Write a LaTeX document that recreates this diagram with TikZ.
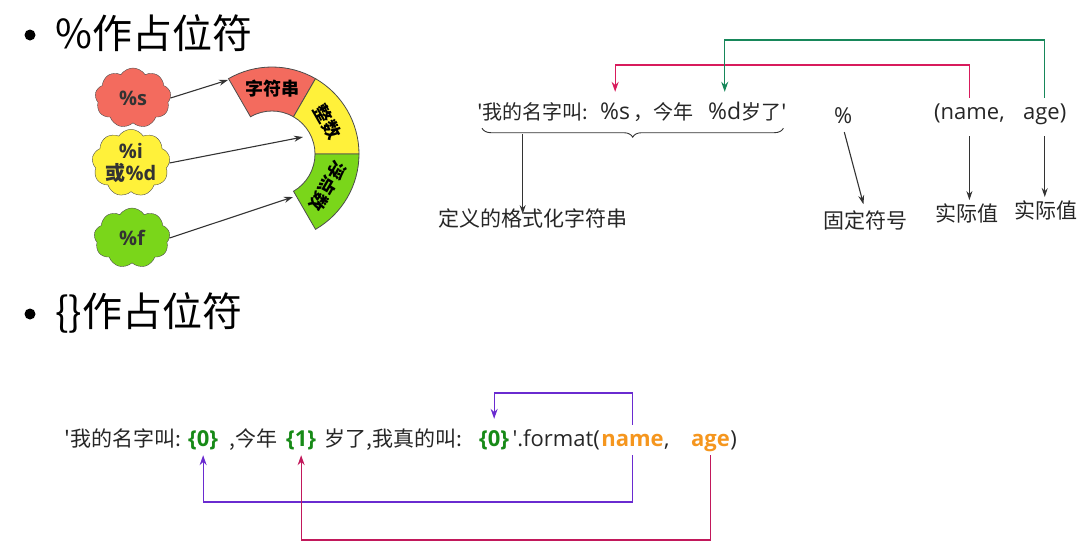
\documentclass[tikz,border=0pt]{standalone}
\usepackage{fontspec}
\setmainfont{Noto Sans CJK SC}
\newfontfamily\latin{Open Sans}
\usetikzlibrary{arrows.meta, positioning, shapes.symbols, calc, decorations.pathreplacing}

\definecolor{segred}{HTML}{F36B5E}
\definecolor{segyellow}{HTML}{FFF13A}
\definecolor{seggreen}{HTML}{7AD61A}
\definecolor{keygreen}{HTML}{178A17}
\definecolor{keyorange}{HTML}{F5961E}
\definecolor{linkred}{HTML}{D81B5C}
\definecolor{linkgreen}{HTML}{17875A}
\definecolor{linkviolet}{HTML}{6A2BD0}
\definecolor{linkrose}{HTML}{C2185B}

\begin{document}
\begin{tikzpicture}[x=1pt, y=-1pt,
  head/.style={font=\fontsize{40}{44}\selectfont, anchor=west, inner sep=0pt},
  bullet/.style={circle, fill=black, inner sep=0pt, minimum size=11pt},
  puff/.style={cloud, cloud puffs=9, cloud puff arc=115, aspect=1.25, draw=black!70,
    minimum width=76pt, minimum height=60pt, inner sep=0pt, align=center,
    font=\bfseries\fontsize{20}{22}\selectfont, text=black!80},
  seg/.style={draw=black!70, line width=0.8pt},
  seglab/.style={font=\bfseries\fontsize{18}{20}\selectfont, inner sep=0pt},
  txt/.style={font=\fontsize{21}{26}\selectfont, anchor=base west, inner sep=0pt,
    text height=17pt, text depth=5pt, text=black!85},
  small/.style={txt, font=\fontsize{20}{24}\selectfont},
  lat/.style={txt, font=\latin\fontsize{22}{26}\selectfont},
  latbig/.style={txt, font=\latin\fontsize{23}{27}\selectfont},
  key/.style={txt, font=\latin\bfseries\fontsize{22}{26}\selectfont},
  lab/.style={font=\fontsize{21}{25}\selectfont, inner sep=0pt, text=black!85},
  arr/.style={-{Stealth[length=9pt, width=6pt]}, line width=1.1pt, draw=black!80},
  link/.style={-{Stealth[length=10pt, width=7pt]}, line width=1.2pt}
]
\useasboundingbox (0,0) rectangle (1087,555);

% headings
\node[bullet] (dot1) at (30,35) {};
\node[head] (head1) at (55,33) {\%作占位符};
\node[bullet] (dot2) at (30,314) {};
\node[head] (head2) at (55,313) {\{\}作占位符};

% clouds
\node[puff, fill=segred] (cs) at (133,98) {\latin\%s};
\node[puff, fill=segyellow] (cd) at (131,163) {{\latin\%i}\\或{\latin\%d}};
\node[puff, fill=seggreen] (cf) at (132,238) {\latin\%f};

% ring of types
\coordinate (c) at (272,154);
\filldraw[seg, fill=segred] ($(c)+(-60:87)$) arc[start angle=-60, end angle=-120, radius=87]
  -- ($(c)+(-120:43)$) arc[start angle=-120, end angle=-60, radius=43] -- cycle;
\filldraw[seg, fill=segyellow] ($(c)+(0:87)$) arc[start angle=0, end angle=-60, radius=87]
  -- ($(c)+(-60:43)$) arc[start angle=-60, end angle=0, radius=43] -- cycle;
\filldraw[seg, fill=seggreen] ($(c)+(60:87)$) arc[start angle=60, end angle=0, radius=87]
  -- ($(c)+(0:43)$) arc[start angle=0, end angle=60, radius=43] -- cycle;
\node[seglab] (tstr) at ($(c)+(-90:65)$) {字符串};
\node[seglab, rotate=-60] (tint) at ($(c)+(-30:64)$) {整数};
\node[seglab, rotate=-120] (tflt) at ($(c)+(30:64)$) {浮点数};

\coordinate (hitstr) at (228,80);
\coordinate (hitint) at (303,137);
\coordinate (hitflt) at (293,197);
\draw[arr] (cs.east) -- (hitstr);
\draw[arr] (cd.east) -- (hitint);
\draw[arr] (cf.east) -- (hitflt);

% % formatting
\node[small] (s1) at (477,119) {\textquotesingle 我的名字叫:};
\node[latbig] (ps) at (600,119) {\%s};
\node[small] (s2) at (633,119) {，今年};
\node[latbig] (pd) at (708,119) {\%d};
\node[small] (s3) at (pd.base east) {岁了\textquotesingle};

\node[lat] (pct) at (834,123) {\%};
\node[lat] (nm) at (934,119) {(name,};
\node[lat] (ag) at (1023,119) {age)};

\draw[decorate, decoration={brace, mirror, amplitude=9pt}, line width=0.9pt, black!80]
  ([xshift=5pt, yshift=-4pt]s1.south west) -- ([xshift=-4pt, yshift=-4pt]s3.south east)
  coordinate[pos=0.135] (brc);

\node[lab] (fmt) at (533,218) {定义的格式化字符串};
\node[lab] (fix) at (865,220) {固定符号};
\node[lab] (val1) at (967,213) {实际值};
\node[lab] (val2) at (1046,210) {实际值};

\draw[arr] ([yshift=-6pt]brc) -- ([yshift=-6pt]brc |- fmt.north);
\draw[arr, shorten <=4pt, shorten >=6pt] (pct.south) -- (fix.north);
\draw[arr, shorten <=12pt, shorten >=3pt] (nm.south) -- (nm.south |- val1.north);
\draw[arr, shorten <=12pt, shorten >=3pt] (ag.south) -- (ag.south |- val2.north);

\coordinate (lvred) at (0,65);
\coordinate (lvgreen) at (0,40);
\draw[link, linkred] ([yshift=4pt]nm.north) -- (nm.north |- lvred) -| ([yshift=10pt]ps.north);
\draw[link, linkgreen] ([yshift=4pt]ag.north) -- (ag.north |- lvgreen) -| ([yshift=10pt]pd.north);

% {} formatting
\node[txt] (b1) at (64,446) {\textquotesingle 我的名字叫:};
\node[key, text=keygreen] (z1) at (188,446) {\{0\}};
\node[txt] (b2) at (229,446) {,今年};
\node[key, text=keygreen] (o1) at (286,446) {\{1\}};
\node[txt] (b3) at (324,446) {岁了,我真的叫:};
\node[key, text=keygreen] (z2) at (479,446) {\{0\}};
\node[lat] (b4) at ([xshift=3pt]z2.base east) {\textquotesingle.format(};
\node[key, text=keyorange] (nm2) at ([xshift=1pt]b4.base east) {name};
\node[lat] (b5) at (nm2.base east) {,};
\node[key, text=keyorange] (ag2) at (691,446) {age};
\node[lat] (b6) at (ag2.base east) {)};

\coordinate (lvtop) at (0,393);
\coordinate (lvmid) at (0,502);
\coordinate (lvlow) at (0,540);
\draw[link, linkviolet] ([yshift=4pt]nm2.north) -- (nm2.north |- lvtop) -| ([yshift=10pt]z2.north);
\draw[link, linkviolet] ([yshift=-4pt]nm2.south) -- (nm2.south |- lvmid) -| ([yshift=-4pt]z1.south);
\draw[link, linkrose] ([yshift=-4pt]ag2.south) -- (ag2.south |- lvlow) -| ([yshift=-4pt]o1.south);
\end{tikzpicture}
\end{document}
